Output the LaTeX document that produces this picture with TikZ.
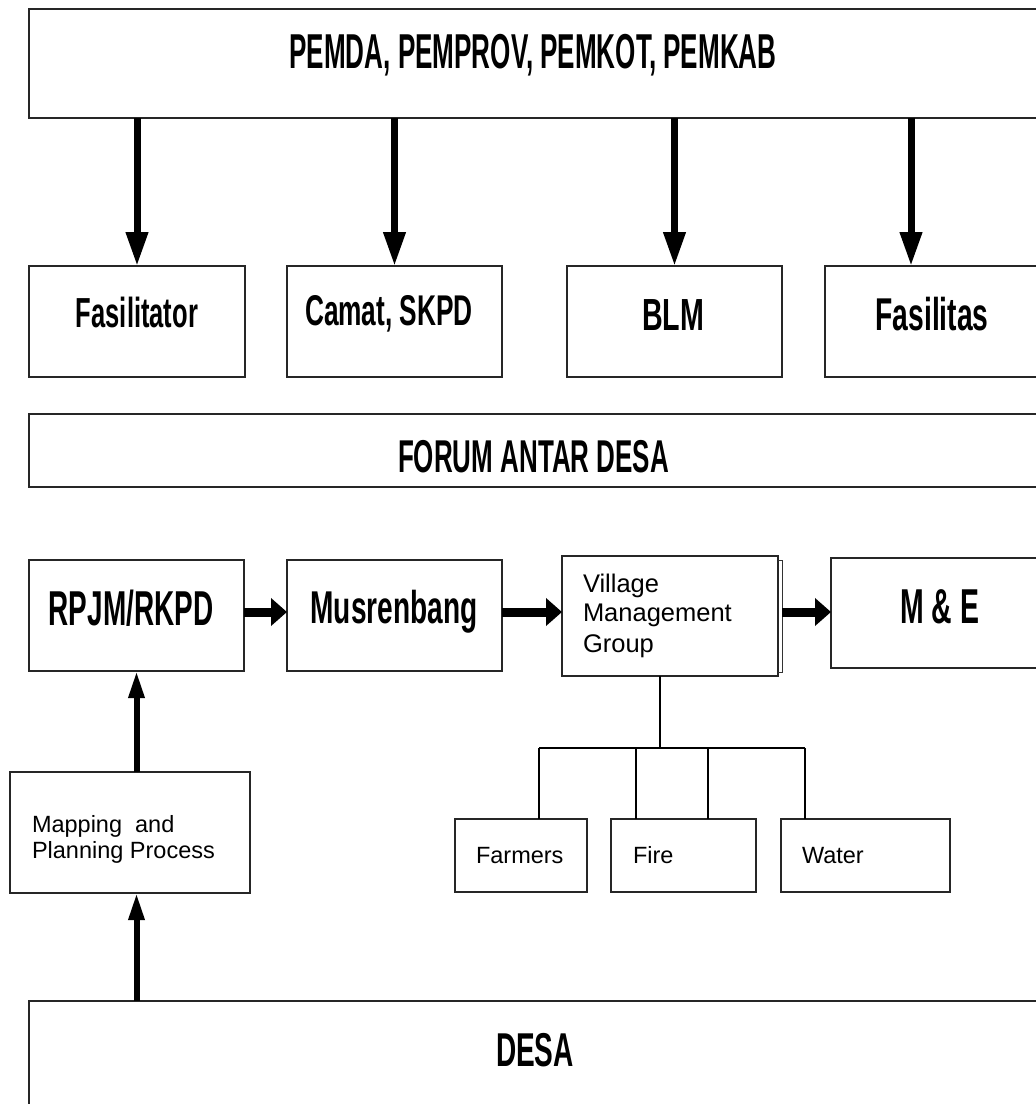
\documentclass[tikz,border=0pt]{standalone}
\usepackage{fontspec}
\setmainfont{Liberation Sans}
\usepackage{graphicx}
\usetikzlibrary{arrows.meta}
\newcommand\nbt[3]{{\fontsize{#1pt}{#1pt}\selectfont\bfseries\scalebox{#2}[1]{#3}}}
\newcommand\rgt[2]{{\fontsize{#1pt}{#1pt}\selectfont #2}}
\begin{document}
\begin{tikzpicture}[x=1pt,y=-1pt,
  box/.style={draw=black!85, line width=1.6pt, inner sep=0pt, outer sep=0pt, anchor=north west},
  txt/.style={inner sep=0pt, outer sep=0pt, anchor=base},
  ltxt/.style={inner sep=0pt, outer sep=0pt, anchor=base west},
  dn/.style={line width=7pt, -{Triangle[length=34pt,width=21pt]}},
  rt/.style={line width=9pt, -{Triangle[length=16pt,width=27pt]}},
  uparrow/.style={line width=6pt, -{Triangle[length=27pt,width=15pt]}},
  tree/.style={line width=1.5pt, black}]
\useasboundingbox (0,0) rectangle (1036,1104);
\fill[white] (0,0) rectangle (1036,1104);
\clip (0,0) rectangle (1036,1104);

% boxes
\node[box, minimum width=1031pt, minimum height=109pt] (top) at (29,9) {};
\node[box, minimum width=216pt, minimum height=111pt] (fas) at (29,266) {};
\node[box, minimum width=215pt, minimum height=111pt] (cam) at (287,266) {};
\node[box, minimum width=215pt, minimum height=111pt] (blm) at (567,266) {};
\node[box, minimum width=235pt, minimum height=111pt] (fasil) at (825,266) {};
\node[box, minimum width=1031pt, minimum height=73pt] (forum) at (29,414) {};
\node[box, minimum width=215pt, minimum height=111pt] (rpjm) at (29,560) {};
\node[box, minimum width=215pt, minimum height=111pt] (mus) at (287,560) {};
\node[box, minimum width=216pt, minimum height=120pt] (vmg) at (562,556) {};
\node[box, minimum width=229pt, minimum height=110pt] (me) at (831,558) {};
\node[box, minimum width=240pt, minimum height=121pt] (map) at (10,772) {};
\node[box, minimum width=132pt, minimum height=73pt] (farm) at (455,819) {};
\node[box, minimum width=145pt, minimum height=73pt] (fire) at (611,819) {};
\node[box, minimum width=169pt, minimum height=73pt] (water) at (781,819) {};
\node[box, minimum width=1031pt, minimum height=120pt] (desa) at (29,1001) {};

% shadow edge of Village Management Group
\draw[line width=1pt, black!80] ([yshift=-4pt]vmg.north east) -- ([xshift=4pt,yshift=-4pt]vmg.north east)
  -- ([xshift=4pt,yshift=4pt]vmg.south east) -- ([yshift=4pt]vmg.south east);

% bold texts
\node[txt] (ttop) at (533,68) {\nbt{49}{0.532}{PEMDA, PEMPROV, PEMKOT, PEMKAB}};
\node[txt] (tfas) at (137,327) {\nbt{42}{0.608}{Fasilitator}};
\node[txt] (tcam) at (389,325) {\nbt{43}{0.611}{Camat, SKPD}};
\node[txt] (tblm) at (673,330) {\nbt{45}{0.636}{BLM}};
\node[txt] (tfasil) at (932,330) {\nbt{46}{0.614}{Fasilitas}};
\node[txt] (tforum) at (533.5,472) {\nbt{46}{0.565}{FORUM ANTAR DESA}};
\node[txt] (trpjm) at (131,625) {\nbt{49}{0.57}{RPJM/RKPD}};
\node[txt] (tmus) at (394,623) {\nbt{46}{0.61}{Musrenbang}};
\node[txt] (tme) at (939.5,623) {\nbt{49}{0.58}{M \& E}};
\node[txt] (tdesa) at (535,1066) {\nbt{47.5}{0.59}{DESA}};

% regular texts
\node[ltxt] (tv1) at (583,592) {\rgt{25.5}{Village}};
\node[ltxt] (tv2) at (583,621) {\rgt{25.5}{Management}};
\node[ltxt] (tv3) at (583,652) {\rgt{25.5}{Group}};
\node[ltxt] (tm1) at (32,832) {\rgt{23.5}{Mapping~~and}};
\node[ltxt] (tm2) at (32,858) {\rgt{23.5}{Planning Process}};
\node[ltxt] (tfarm) at (476,863) {\rgt{23.5}{Farmers}};
\node[ltxt] (tfire) at (633,863) {\rgt{23.5}{Fire}};
\node[ltxt] (twater) at (802,863) {\rgt{23.5}{Water}};

% down arrows
\coordinate (fin) at (911,266);
\draw[dn] (top.south -| fas.north) -- (fas.north);
\draw[dn] (top.south -| cam.north) -- (cam.north);
\draw[dn] (top.south -| blm.north) -- (blm.north);
\draw[dn] (top.south -| fin) -- (fin);

% horizontal arrows
\coordinate (arow) at (0,612);
\draw[rt] (rpjm.east |- arow) -- (mus.west |- arow);
\draw[rt] (mus.east |- arow) -- (vmg.west |- arow);
\draw[rt] ([xshift=4pt]vmg.east |- arow) -- (me.west |- arow);

% up arrows
\draw[uparrow] (rpjm.south |- map.north) -- (rpjm.south);
\draw[uparrow] (rpjm.south |- desa.north) -- (rpjm.south |- map.south);

% tree
\coordinate (hub) at (660,748);
\coordinate (b1) at (539,748);
\coordinate (b2) at (636,748);
\coordinate (b3) at (708,748);
\coordinate (b4) at (805,748);
\draw[tree] (vmg.south -| hub) -- (hub);
\draw[tree] (b1) -- (b4);
\draw[tree] (b1) -- (b1 |- farm.north);
\draw[tree] (b2) -- (b2 |- fire.north);
\draw[tree] (b3) -- (b3 |- fire.north);
\draw[tree] (b4) -- (b4 |- water.north);
\end{tikzpicture}
\end{document}
